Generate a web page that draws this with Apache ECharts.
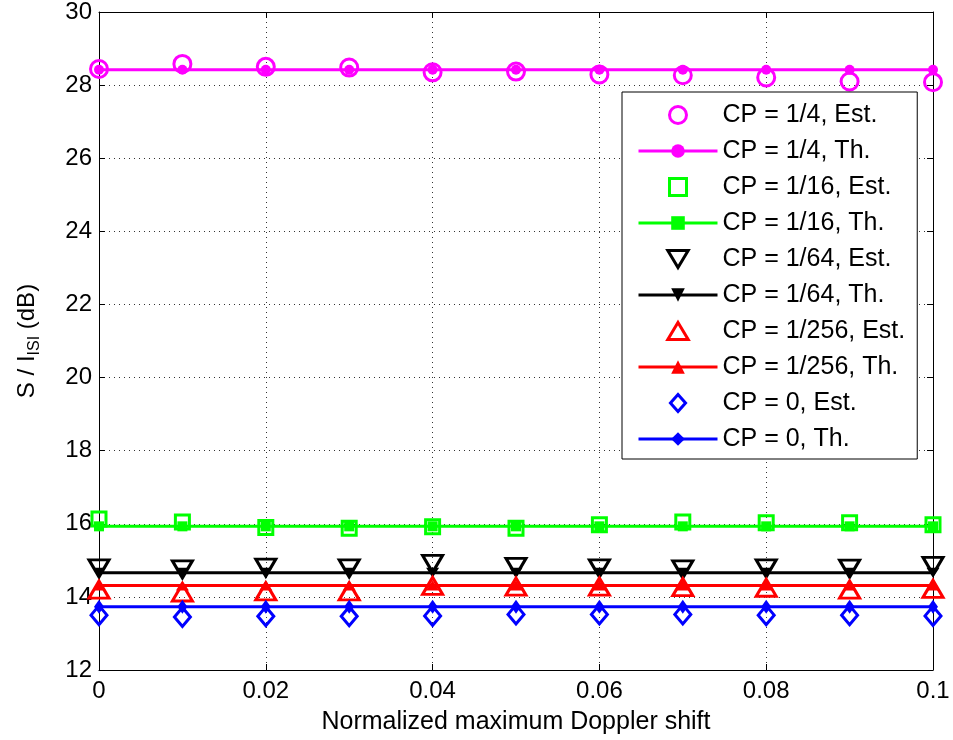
<!DOCTYPE html>
<html><head><meta charset="utf-8">
<script src="https://cdn.jsdelivr.net/npm/echarts@6/dist/echarts.min.js"></script>
<style>html,body{margin:0;padding:0;background:#fff}#c{width:953px;height:740px}</style>
</head><body><div id="c"></div>
<script>
// ---- data ----
const xValues = [0, 0.01, 0.02, 0.03, 0.04, 0.05, 0.06, 0.07, 0.08, 0.09, 0.1];
const yTicks = [12, 14, 16, 18, 20, 22, 24, 26, 28, 30];
const xTicks = [0, 0.02, 0.04, 0.06, 0.08, 0.1];

const est_1_4   = [28.44, 28.58, 28.50, 28.48, 28.35, 28.37, 28.29, 28.27, 28.21, 28.10, 28.08];
const th_1_4    = [28.42, 28.42, 28.42, 28.42, 28.42, 28.42, 28.42, 28.42, 28.42, 28.42, 28.42];
const est_1_16  = [16.13, 16.05, 15.90, 15.88, 15.92, 15.88, 15.97, 16.05, 16.03, 16.03, 15.97];
const th_1_16   = [15.93, 15.93, 15.93, 15.93, 15.93, 15.93, 15.93, 15.93, 15.93, 15.93, 15.93];
const est_1_64  = [14.78, 14.75, 14.80, 14.78, 14.90, 14.82, 14.78, 14.75, 14.78, 14.77, 14.85];
const th_1_64   = [14.66, 14.66, 14.66, 14.66, 14.66, 14.66, 14.66, 14.66, 14.66, 14.66, 14.66];
const est_1_256 = [14.20, 14.12, 14.15, 14.15, 14.30, 14.28, 14.28, 14.27, 14.25, 14.20, 14.22];
const th_1_256  = [14.31, 14.31, 14.31, 14.31, 14.31, 14.31, 14.31, 14.31, 14.31, 14.31, 14.31];
const est_0     = [13.50, 13.45, 13.47, 13.47, 13.48, 13.52, 13.52, 13.52, 13.50, 13.50, 13.48];
const th_0      = [13.73, 13.73, 13.73, 13.73, 13.73, 13.73, 13.73, 13.73, 13.73, 13.73, 13.73];

const seriesNames = [
  'CP = 1/4, Est.', 'CP = 1/4, Th.',
  'CP = 1/16, Est.', 'CP = 1/16, Th.',
  'CP = 1/64, Est.', 'CP = 1/64, Th.',
  'CP = 1/256, Est.', 'CP = 1/256, Th.',
  'CP = 0, Est.', 'CP = 0, Th.'
];

// ---- build ----
const FONT = '"Liberation Sans", Arial, Helvetica, sans-serif';
const pts = arr => xValues.map((x, i) => [x, arr[i]]);

function est(name, data, color, symbol, size, rotate) {
  return {
    name, type: 'scatter', data: pts(data), symbol, symbolSize: size,
    symbolRotate: rotate || 0, symbolKeepAspect: true,
    itemStyle: { color: 'rgba(0,0,0,0)', borderColor: color, borderWidth: 3, opacity: 1 },
    emphasis: { disabled: true }, z: 3
  };
}
function th(name, data, color, symbol, size, rotate) {
  return {
    name, type: 'line', data: pts(data), symbol, symbolSize: size,
    symbolRotate: rotate || 0, showSymbol: true, symbolKeepAspect: true,
    lineStyle: { color, width: 3 },
    itemStyle: { color, borderWidth: 0, opacity: 1 },
    emphasis: { disabled: true }, z: 3
  };
}

const series = [
  est(seriesNames[0], est_1_4, '#ff00ff', 'circle', 17),
  th(seriesNames[1], th_1_4, '#ff00ff', 'circle', 10),
  est(seriesNames[2], est_1_16, '#00ff00', 'rect', 14),
  th(seriesNames[3], th_1_16, '#00ff00', 'rect', 10),
  est(seriesNames[4], est_1_64, '#000000', 'triangle', [20, 17], 180),
  th(seriesNames[5], th_1_64, '#000000', 'triangle', [13, 10], 180),
  est(seriesNames[6], est_1_256, '#ff0000', 'triangle', [20, 17]),
  th(seriesNames[7], th_1_256, '#ff0000', 'triangle', [13, 10]),
  est(seriesNames[8], est_0, '#0000ff', 'diamond', [16, 19]),
  th(seriesNames[9], th_0, '#0000ff', 'diamond', [10, 14])
];

const legendIcons = {
  'CP = 1/4, Est.':   'path://M10,1A9,9 0 1,1 9.99,1Z',
  'CP = 1/16, Est.':  'path://M2,2L16,2L16,16L2,16Z',
  'CP = 1/64, Est.':  'path://M1,2L19,2L10,17Z',
  'CP = 1/256, Est.': 'path://M10,1L19,16L1,16Z',
  'CP = 0, Est.':     'path://M9,1L17,10L9,19L1,10Z'
};
const legendData = seriesNames.map(n => legendIcons[n] ? { name: n, icon: legendIcons[n] } : { name: n });

const gridLine = { show: true, lineStyle: { color: '#333', type: [1, 4], width: 1 } };

const option = {
  animation: false,
  backgroundColor: '#fff',
  textStyle: { fontFamily: FONT },
  grid: { left: 99, right: 20, top: 10.5, bottom: 70, containLabel: false },
  xAxis: [{
    type: 'value', min: 0, max: 0.1, interval: 0.02,
    name: 'Normalized maximum Doppler shift', nameLocation: 'middle', nameGap: 40,
    nameTextStyle: { fontSize: 25, color: '#000', fontFamily: FONT },
    axisLine: { show: true, lineStyle: { color: '#000', width: 1 } },
    axisTick: { show: true, inside: true, length: 6, lineStyle: { color: '#000' } },
    axisLabel: { fontSize: 24, color: '#000', margin: 9, fontFamily: FONT,
      formatter: v => { const t = xTicks.find(k => Math.abs(k - v) < 1e-9); return t === undefined ? '' : String(t); } },
    splitLine: gridLine
  }, {
    type: 'value', min: 0, max: 0.1, interval: 0.02, position: 'top',
    axisLine: { show: true, onZero: false, lineStyle: { color: '#000', width: 1 } },
    axisTick: { show: true, inside: true, length: 6, lineStyle: { color: '#000' } },
    axisLabel: { show: false }, splitLine: { show: false }
  }],
  yAxis: [{
    type: 'value', min: 12, max: 30, interval: 2,
    name: '{n|S / I}{sub|ISI}{n| (dB)}', nameLocation: 'middle', nameGap: 60, nameRotate: 90,
    nameTextStyle: { color: '#000', fontFamily: FONT,
      rich: {
        n: { fontSize: 24, lineHeight: 24, verticalAlign: 'top', color: '#000', fontFamily: FONT },
        sub: { fontSize: 16, lineHeight: 16, verticalAlign: 'top', padding: [12, 0, 0, 0], color: '#000', fontFamily: FONT }
      } },
    axisLine: { show: true, lineStyle: { color: '#000', width: 1 } },
    axisTick: { show: true, inside: true, length: 6, lineStyle: { color: '#000' } },
    axisLabel: { fontSize: 24, color: '#000', margin: 7, fontFamily: FONT,
      formatter: v => (yTicks.indexOf(v) >= 0 ? String(v) : '') },
    splitLine: gridLine
  }, {
    type: 'value', min: 12, max: 30, interval: 2, position: 'right',
    axisLine: { show: true, onZero: false, lineStyle: { color: '#000', width: 1 } },
    axisTick: { show: true, inside: true, length: 6, lineStyle: { color: '#000' } },
    axisLabel: { show: false }, splitLine: { show: false }
  }],
  legend: {
    data: legendData,
    orient: 'vertical', left: 622, top: 92,
    padding: [10, 12, 7, 15],
    itemWidth: 79, itemHeight: 17, itemGap: 10,
    symbolKeepAspect: true,
    backgroundColor: '#fff', borderColor: '#000', borderWidth: 1, borderRadius: 0,
    textStyle: { fontSize: 25, color: '#000', lineHeight: 26, fontFamily: FONT },
    itemStyle: { borderWidth: 3, opacity: 1 },
    lineStyle: { width: 3 },
    selectedMode: false
  },
  series
};

const chart = echarts.init(document.getElementById('c'), null, { renderer: 'canvas' });
chart.setOption(option);
</script>
</body></html>
